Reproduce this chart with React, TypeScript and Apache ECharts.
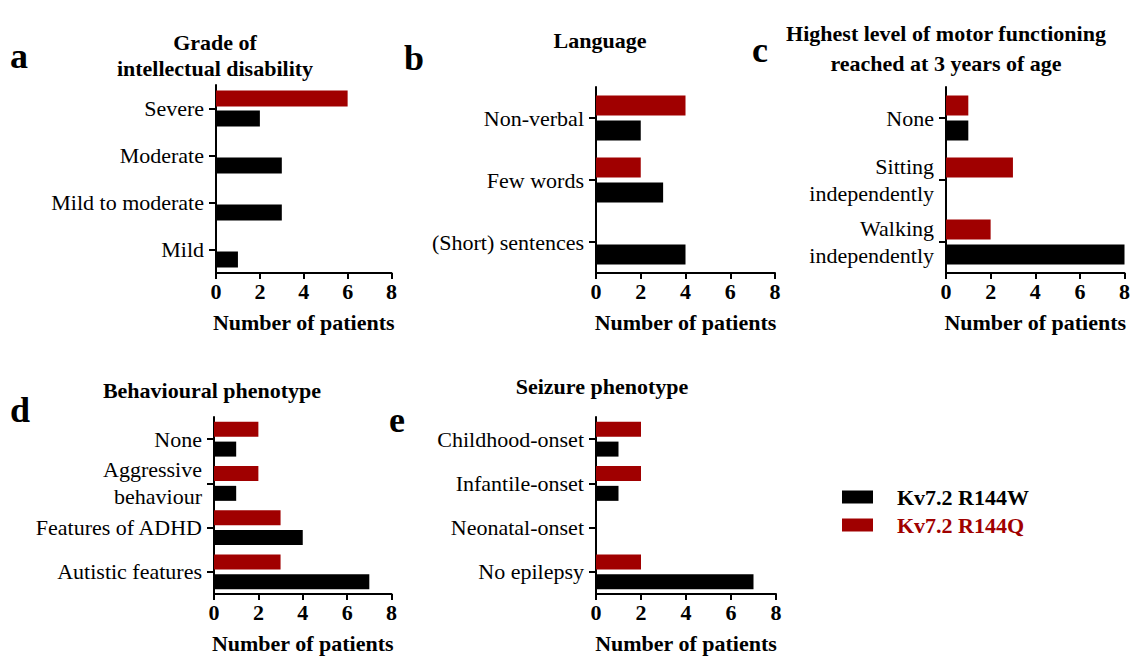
import React, { useEffect, useRef } from 'react';
import * as echarts from 'echarts';

const FONT = 'Liberation Serif';
const W_NAME = 'Kv7.2 R144W';
const Q_NAME = 'Kv7.2 R144Q';
const W_COLOR = '#000000';
const Q_COLOR = '#a00000';
const AXIS_NAME = 'Number of patients';

// x-axis scale (ticks 0, 2, 4, 6, 8)
const xMin = 0;
const xMax = 8;
const xStep = 2;

// a: Grade of intellectual disability
const catsA = ['Severe', 'Moderate', 'Mild to moderate', 'Mild'];
const wA = [2, 3, 3, 1];
const qA = [6, 0, 0, 0];

// b: Language
const catsB = ['Non-verbal', 'Few words', '(Short) sentences'];
const wB = [2, 3, 4];
const qB = [4, 2, 0];

// c: Highest level of motor functioning
const catsC = ['None', 'Sitting\nindependently', 'Walking\nindependently'];
const wC = [1, 0, 8];
const qC = [1, 3, 2];

// d: Behavioural phenotype
const catsD = ['None', 'Aggressive\nbehaviour', 'Features of ADHD', 'Autistic features'];
const wD = [1, 1, 4, 7];
const qD = [2, 2, 3, 3];

// e: Seizure phenotype
const catsE = ['Childhood-onset', 'Infantile-onset', 'Neonatal-onset', 'No epilepsy'];
const wE = [1, 1, 0, 7];
const qE = [2, 2, 0, 2];

const panels = [
  {
    box: { left: 0, top: 0, width: 400, height: 340 },
    cats: catsA, w: wA, q: qA,
    grid: { left: 216, top: 85, width: 180, height: 188 },
    barWidth: 16, barGap: '25%',
    titles: [{ text: 'Grade of', x: 215, y: 42 }, { text: 'intellectual disability', x: 215, y: 68 }],
    letters: [{ text: 'a', x: 10, y: 38 }],
    legend: false,
  },
  {
    box: { left: 390, top: 0, width: 400, height: 340 },
    cats: catsB, w: wB, q: qB,
    grid: { left: 206, top: 87, width: 179, height: 186 },
    barWidth: 20, barGap: '25%',
    titles: [{ text: 'Language', x: 210, y: 40 }],
    letters: [{ text: 'b', x: 14, y: 40 }],
    legend: false,
  },
  {
    box: { left: 740, top: 0, width: 393, height: 340 },
    cats: catsC, w: wC, q: qC,
    grid: { left: 206, top: 87, width: 180, height: 186 },
    barWidth: 20, barGap: '25%',
    titles: [
      { text: 'Highest level of motor functioning', x: 206, y: 33 },
      { text: 'reached at 3 years of age', x: 206, y: 63 },
    ],
    letters: [{ text: 'c', x: 12, y: 32 }],
    legend: false,
  },
  {
    box: { left: 0, top: 340, width: 400, height: 319 },
    cats: catsD, w: wD, q: qD,
    grid: { left: 214, top: 77, width: 182, height: 187 },
    barWidth: 15, barGap: '33%',
    titles: [{ text: 'Behavioural phenotype', x: 212, y: 50 }],
    letters: [{ text: 'd', x: 10, y: 52 }],
    legend: false,
  },
  {
    box: { left: 385, top: 340, width: 748, height: 319 },
    cats: catsE, w: wE, q: qE,
    grid: { left: 211, top: 77, width: 180, height: 187 },
    barWidth: 15, barGap: '33%',
    titles: [{ text: 'Seizure phenotype', x: 217, y: 46 }],
    letters: [{ text: 'e', x: 4, y: 62 }],
    legend: true,
  },
];

function panelOption(p: any) {
  const option: any = {
    animation: false,
    grid: { ...p.grid },
    xAxis: {
      type: 'value',
      min: xMin,
      max: xMax,
      interval: xStep,
      splitLine: { show: false },
      axisLine: { show: true, lineStyle: { color: '#000', width: 2 } },
      axisTick: { show: true, length: 6, lineStyle: { color: '#000', width: 2 } },
      axisLabel: { color: '#000', fontSize: 22, fontWeight: 'bold', fontFamily: FONT, margin: 7 },
      name: AXIS_NAME,
      nameLocation: 'middle',
      nameGap: 38,
      nameTextStyle: { color: '#000', fontSize: 22, fontWeight: 'bold', fontFamily: FONT },
    },
    yAxis: {
      type: 'category',
      inverse: true,
      data: p.cats,
      axisLine: { show: true, lineStyle: { color: '#000', width: 2 } },
      axisTick: { show: true, alignWithLabel: true, length: 7, lineStyle: { color: '#000', width: 2 } },
      axisLabel: { color: '#000', fontSize: 22, fontFamily: FONT, margin: 12, lineHeight: 27 },
    },
    series: [
      { type: 'bar', name: Q_NAME, data: p.q, barWidth: p.barWidth, barGap: p.barGap, itemStyle: { color: Q_COLOR } },
      { type: 'bar', name: W_NAME, data: p.w, barWidth: p.barWidth, barGap: p.barGap, itemStyle: { color: W_COLOR } },
    ],
    graphic: [
      ...p.titles.map((t: any) => ({
        type: 'text',
        x: t.x,
        y: t.y,
        style: {
          text: t.text,
          fill: '#000',
          font: `bold 22px ${FONT}`,
          textAlign: 'center',
          textVerticalAlign: 'middle',
        },
      })),
      ...p.letters.map((t: any) => ({
        type: 'text',
        x: t.x,
        y: t.y,
        style: {
          text: t.text,
          fill: '#000',
          font: `bold 36px ${FONT}`,
          textAlign: 'left',
          textVerticalAlign: 'alphabetic',
        },
      })),
    ],
  };
  if (p.legend) {
    option.legend = {
      left: 842 - p.box.left,
      top: 486 - p.box.top,
      padding: 0,
      orient: 'vertical',
      itemWidth: 31,
      itemHeight: 13,
      itemGap: 6,
      icon: 'rect',
      selectedMode: false,
      data: [
        { name: W_NAME, textStyle: { color: W_COLOR } },
        { name: Q_NAME, textStyle: { color: Q_COLOR } },
      ],
      formatter: (n: string) => `{p|}${n}`,
      textStyle: {
        fontSize: 22,
        fontWeight: 'bold',
        fontFamily: FONT,
        rich: { p: { width: 19 } },
      },
    };
  }
  return option;
}

function Panel({ index }: { index: number }) {
  const ref = useRef<HTMLDivElement>(null);
  const p = panels[index];
  useEffect(() => {
    const chart = echarts.init(ref.current!, null, { renderer: 'svg' });
    chart.setOption(panelOption(p));
    return () => chart.dispose();
  }, [index]);
  return (
    <div
      ref={ref}
      style={{ position: 'absolute', left: p.box.left, top: p.box.top, width: p.box.width, height: p.box.height }}
    />
  );
}

export default function App() {
  useEffect(() => {
    document.body.style.margin = '0';
  }, []);
  return (
    <div style={{ position: 'absolute', left: 0, top: 0, width: 1133, height: 659, background: '#fff' }}>
      {panels.map((_, i) => (
        <Panel key={i} index={i} />
      ))}
    </div>
  );
}
